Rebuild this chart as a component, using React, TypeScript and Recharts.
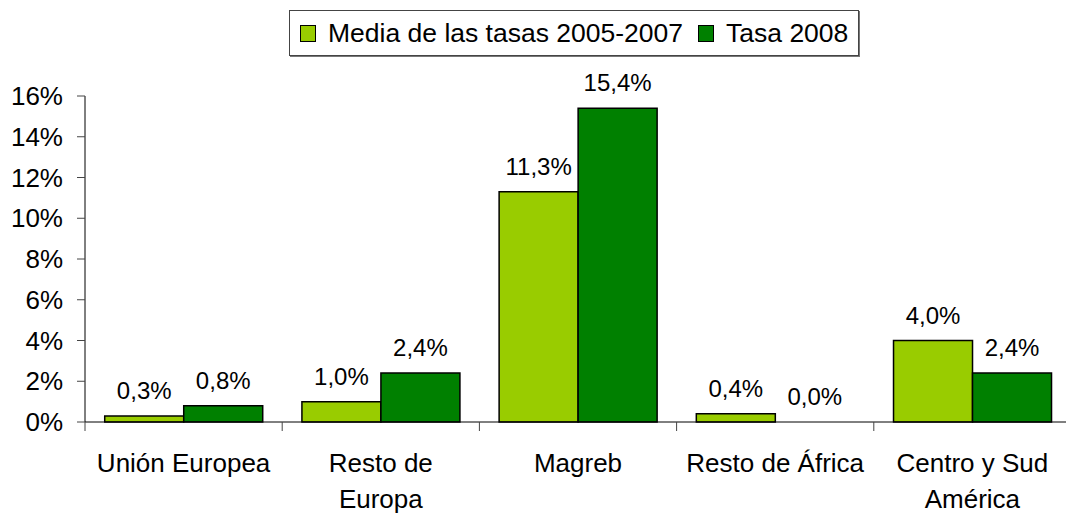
import { BarChart, Bar, XAxis, YAxis, LabelList, Cell } from "recharts";

const categories = ["Unión Europea", "Resto de Europa", "Magreb", "Resto de África", "Centro y Sud América"];
const categoryLines = [["Unión Europea"], ["Resto de", "Europa"], ["Magreb"], ["Resto de África"], ["Centro y Sud", "América"]];
const mediaValues = [0.3, 1.0, 11.3, 0.4, 4.0];
const tasa2008Values = [0.8, 2.4, 15.4, 0.0, 2.4];
const yTicks = [0, 2, 4, 6, 8, 10, 12, 14, 16];

const seriesNames = ["Media de las tasas 2005-2007", "Tasa 2008"];
const seriesColors = ["#99CC00", "#008000"];

const data = categories.map((name, i) => ({
  name,
  media: mediaValues[i],
  tasa: tasa2008Values[i],
}));

const CHART_W = 1071;
const Y_AXIS_W = 85;
const FONT = "'Liberation Sans', Arial, sans-serif";

const fmtLabel = (v: number) => `${v.toFixed(1).replace(".", ",")}%`;

// zero-height bars still need their label, so give them a hairline that is not stroked
const minSize = (v: any) => (Number(v) === 0 ? 0.01 : 0);

function CategoryTick(props: any) {
  const { x, y, payload, index, visibleTicksCount } = props;
  const half =
    payload && typeof payload.offset === "number" && payload.offset > 0
      ? payload.offset
      : (CHART_W - Y_AXIS_W) / categories.length / 2;
  const lines = categoryLines[index] ?? [String(payload.value)];
  return (
    <g>
      <line x1={x - half} x2={x - half} y1={y} y2={y + 9} stroke="#444" strokeWidth={1} />
      {index === visibleTicksCount - 1 && (
        <line x1={x + half} x2={x + half} y1={y} y2={y + 9} stroke="#444" strokeWidth={1} />
      )}
      <text x={x} y={y + 50} textAnchor="middle" fontSize={26} fill="#000" fontFamily={FONT}>
        {lines.map((l: string, i: number) => (
          <tspan key={i} x={x} dy={i === 0 ? 0 : 36}>
            {l}
          </tspan>
        ))}
      </text>
    </g>
  );
}

function LegendBox() {
  return (
    <div
      style={{
        position: "absolute",
        left: 289,
        top: 10,
        height: 46,
        boxSizing: "border-box",
        border: "1px solid #444",
        boxShadow: "1px 1px 0 #777",
        background: "#fff",
        display: "flex",
        alignItems: "center",
        padding: "0 10px",
        fontSize: 26.5,
        fontFamily: FONT,
        color: "#000",
        whiteSpace: "nowrap",
      }}
    >
      {seriesNames.map((n, i) => (
        <div key={n} style={{ display: "flex", alignItems: "center", marginLeft: i === 0 ? 0 : 15 }}>
          <span
            style={{
              display: "inline-block",
              width: 16,
              height: 17,
              boxSizing: "border-box",
              border: "1.5px solid #000",
              background: seriesColors[i],
              marginRight: 12,
            }}
          />
          <span>{n}</span>
        </div>
      ))}
    </div>
  );
}

export default function App() {
  return (
    <div
      style={{
        position: "absolute",
        left: 0,
        top: 0,
        width: 1066,
        height: 514,
        overflow: "hidden",
        background: "#fff",
        fontFamily: FONT,
      }}
    >
      <BarChart
        width={CHART_W}
        height={514}
        data={data}
        margin={{ top: 96, right: 0, bottom: 0, left: 0 }}
        barCategoryGap="10%"
        barGap={0}
      >
        <XAxis
          dataKey="name"
          type="category"
          height={92}
          interval={0}
          tickSize={0}
          tickMargin={0}
          tickLine={false}
          axisLine={{ stroke: "#000", strokeWidth: 1 }}
          tick={<CategoryTick />}
        />
        <YAxis
          width={Y_AXIS_W}
          domain={[0, 16]}
          ticks={yTicks}
          interval={0}
          tickSize={8}
          tickMargin={14}
          axisLine={{ stroke: "#000", strokeWidth: 1 }}
          tickLine={{ stroke: "#444", strokeWidth: 1 }}
          tick={{ fontSize: 26, fill: "#000", fontFamily: FONT }}
          tickFormatter={(v: number) => `${v}%`}
        />
        <Bar dataKey="media" name={seriesNames[0]} fill={seriesColors[0]} stroke="#000" strokeWidth={1.5} minPointSize={minSize} isAnimationActive={false}>
          {mediaValues.map((v, i) => (
            <Cell key={i} stroke={v === 0 ? "none" : "#000"} />
          ))}
          <LabelList dataKey="media" position="top" offset={17} formatter={(v: any) => fmtLabel(Number(v))} style={{ fontSize: 24, fill: "#000", fontFamily: FONT }} />
        </Bar>
        <Bar dataKey="tasa" name={seriesNames[1]} fill={seriesColors[1]} stroke="#000" strokeWidth={1.5} minPointSize={minSize} isAnimationActive={false}>
          {tasa2008Values.map((v, i) => (
            <Cell key={i} stroke={v === 0 ? "none" : "#000"} />
          ))}
          <LabelList dataKey="tasa" position="top" offset={17} formatter={(v: any) => fmtLabel(Number(v))} style={{ fontSize: 24, fill: "#000", fontFamily: FONT }} />
        </Bar>
      </BarChart>
      <LegendBox />
    </div>
  );
}
